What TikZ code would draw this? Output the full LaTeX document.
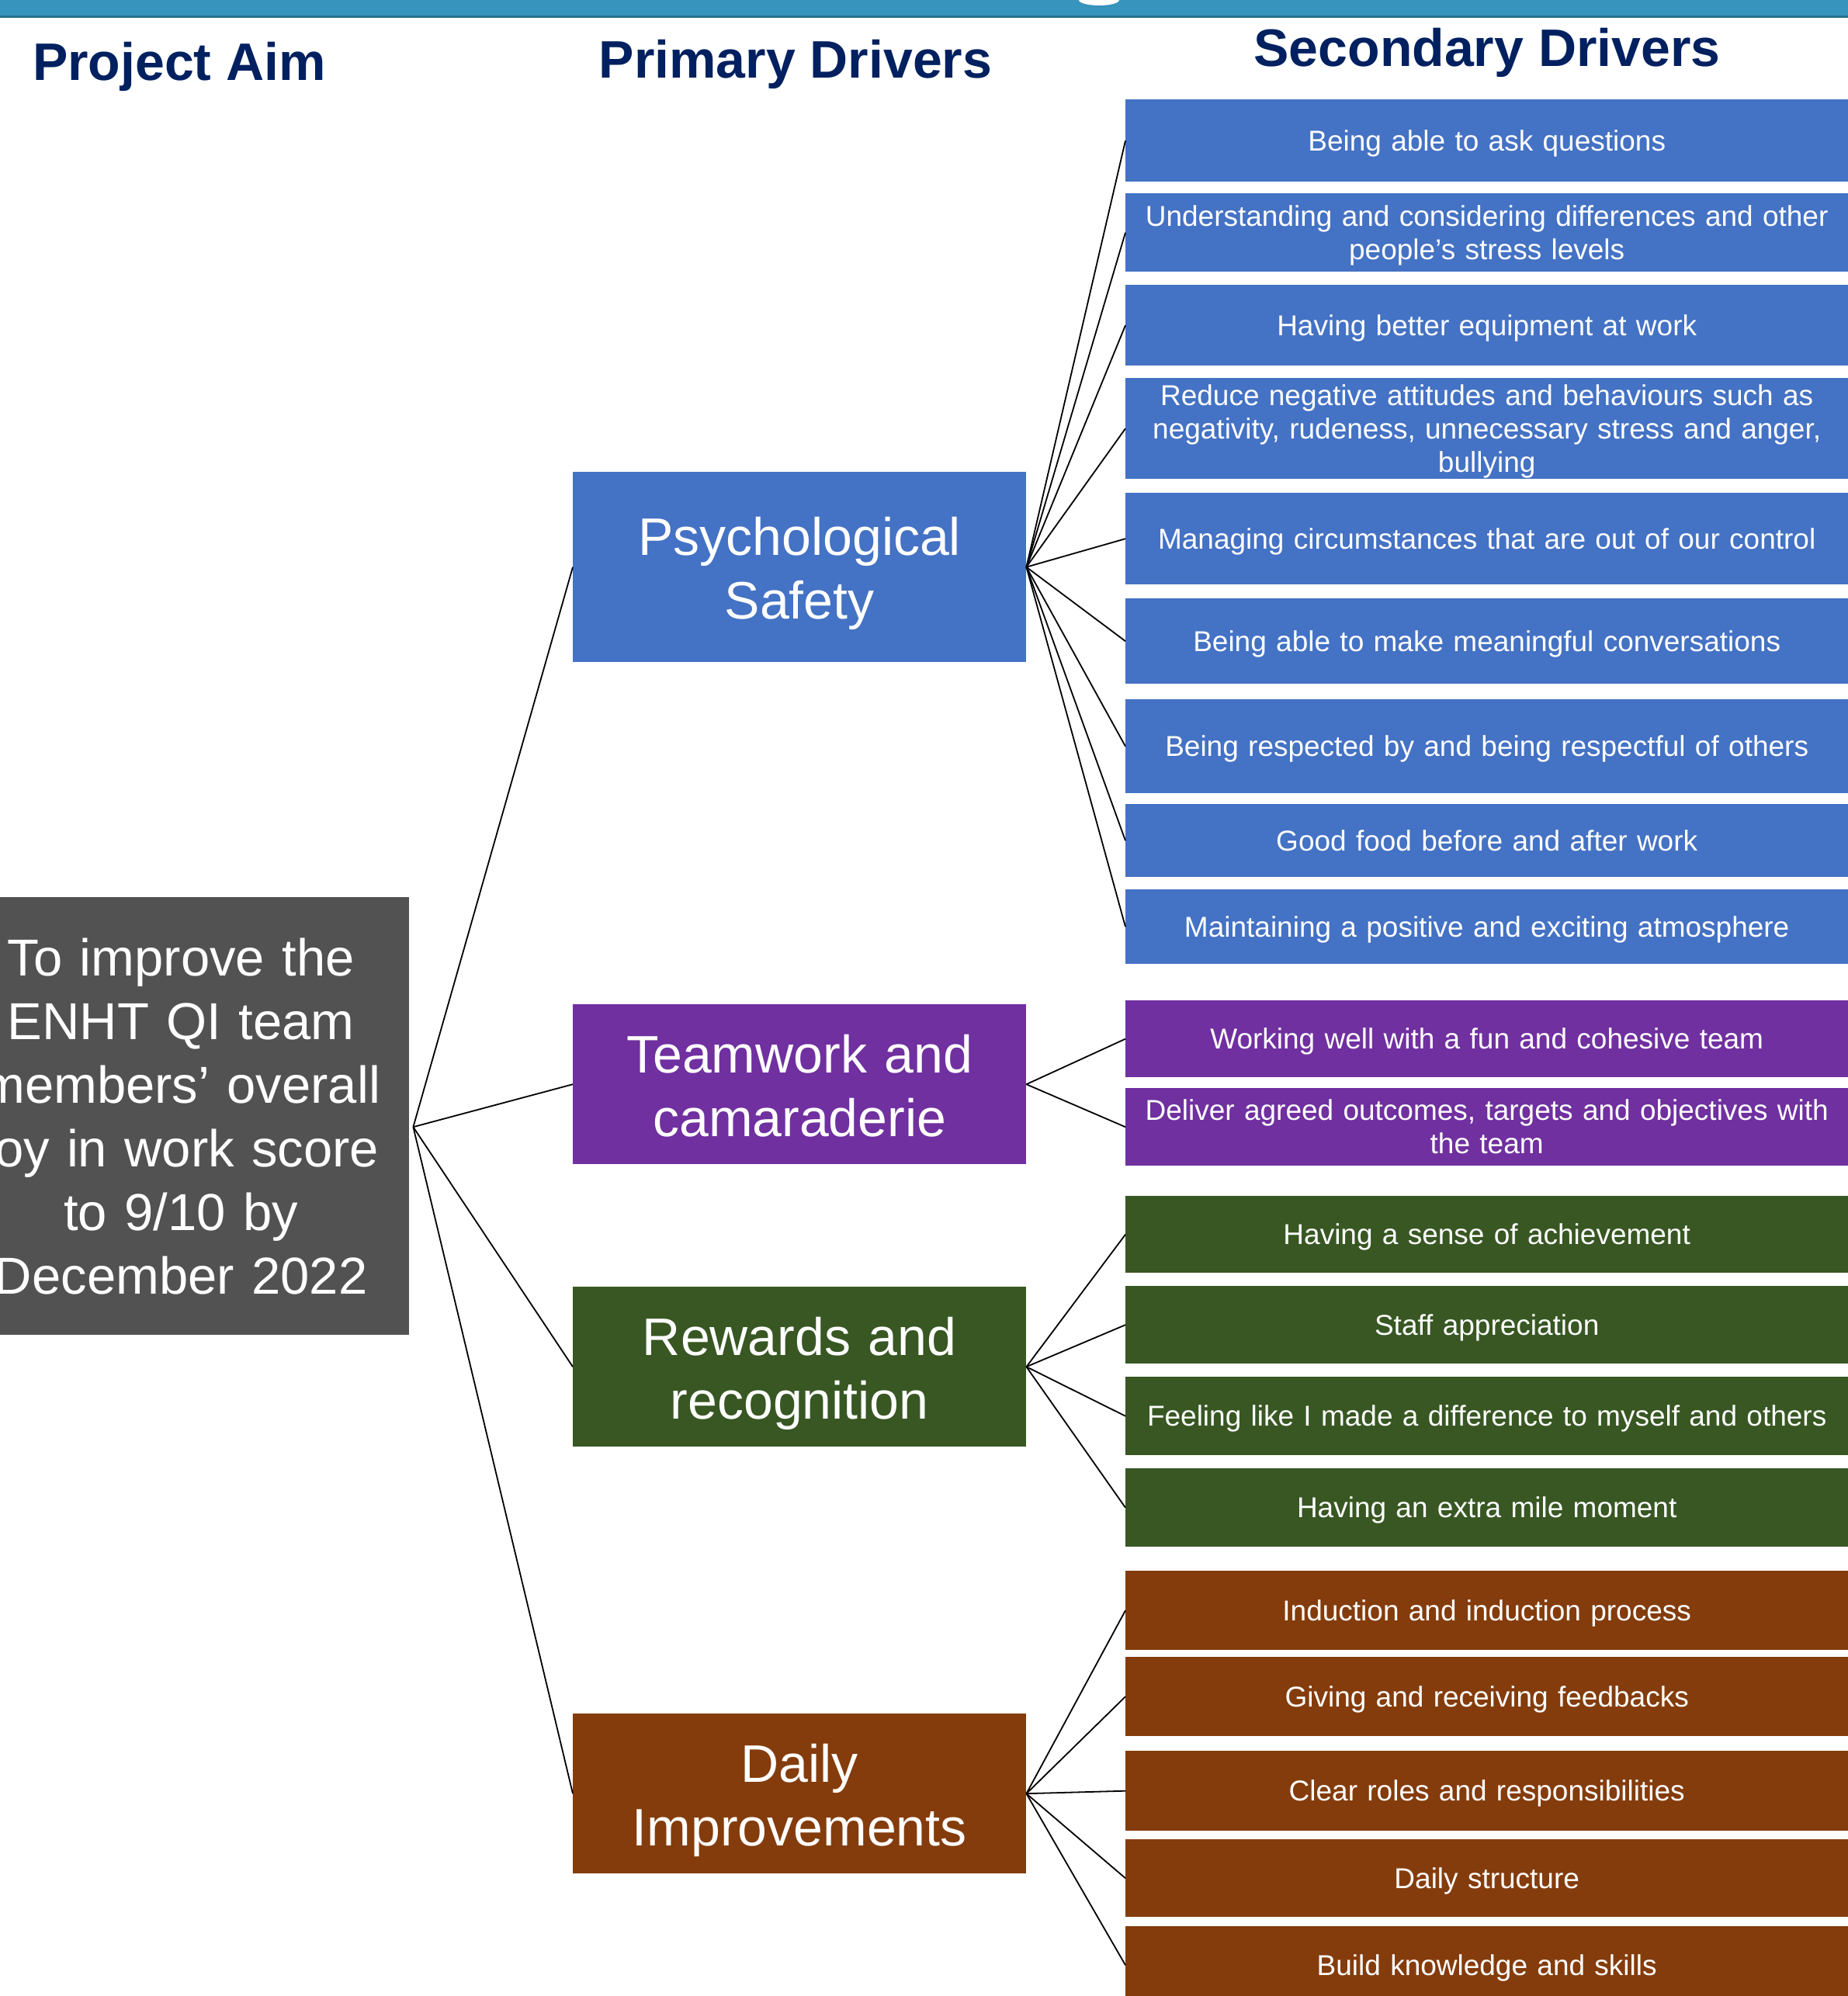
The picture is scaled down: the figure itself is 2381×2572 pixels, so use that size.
\documentclass[tikz,border=0pt]{standalone}
\usepackage{fontspec}
\setmainfont{Liberation Sans}
\definecolor{banner}{HTML}{3794BC}
\definecolor{bannerdark}{HTML}{26708E}
\definecolor{hdrblue}{HTML}{002060}
\definecolor{blueC}{HTML}{4472C4}
\definecolor{purpleC}{HTML}{7030A0}
\definecolor{greenC}{HTML}{385723}
\definecolor{brownC}{HTML}{843C0C}
\definecolor{aimgray}{HTML}{525252}
\begin{document}
\begin{tikzpicture}[x=1pt,y=-1pt,
  sec/.style={rectangle, anchor=north west, inner sep=0pt, minimum width=931pt, text width=931pt, align=center, text=white, font=\fontsize{37}{43}\selectfont,
    execute at begin node={\rule{0pt}{35pt}}, execute at end node={\rule[-9pt]{0pt}{9pt}}},
  prim/.style={rectangle, anchor=north west, inner sep=0pt, minimum width=584pt, text width=584pt, align=center, text=white, font=\fontsize{68}{82}\selectfont,
    execute at begin node={\rule{0pt}{67pt}}, execute at end node={\rule[-15pt]{0pt}{15pt}}},
  aimbox/.style={rectangle, anchor=north west, inner sep=0pt, minimum width=588pt, text width=588pt, align=center, text=white, fill=aimgray, font=\fontsize{67}{82}\selectfont},
  hdr/.style={anchor=base, inner sep=0pt, text=hdrblue, font=\fontsize{68}{82}\selectfont\bfseries},
  link/.style={draw=black, line width=1.8pt}
]
\useasboundingbox (0,0) rectangle (2381,2572);
\clip (0,0) rectangle (2381,2572);

% banner
\fill[banner] (0,0) rectangle (2381,20);
\fill[bannerdark] (0,20) rectangle (2381,23);
\fill[white] (1416,0) ellipse [x radius=26, y radius=7];

% headers
\node[hdr] (h1) at (231,103) {Project Aim};
\node[hdr] (h2) at (1025,100) {Primary Drivers};
\node[hdr] (h3) at (1916,85) {Secondary Drivers};

% aim
\node[aimbox, minimum height=564pt] (aim) at (-61,1156) {To improve the\\ENHT QI team\\members’ overall\\joy in work score\\to 9/10 by\\December 2022};

% primary drivers
\node[prim, fill=blueC, minimum height=245pt] (p1) at (738,608) {Psychological\\Safety};
\node[prim, fill=purpleC, minimum height=206pt] (p2) at (738,1294) {Teamwork and\\camaraderie};
\node[prim, fill=greenC, minimum height=206pt] (p3) at (738,1658) {Rewards and\\recognition};
\node[prim, fill=brownC, minimum height=206pt] (p4) at (738,2208) {Daily\\Improvements};

% secondary drivers
\node[sec, fill=blueC, minimum height=106pt] (s1) at (1450,128) {Being able to ask questions};
\node[sec, fill=blueC, minimum height=101pt] (s2) at (1450,249) {Understanding and considering differences and other\\people’s stress levels};
\node[sec, fill=blueC, minimum height=104pt] (s3) at (1450,367) {Having better equipment at work};
\node[sec, fill=blueC, minimum height=130pt] (s4) at (1450,487) {Reduce negative attitudes and behaviours such as\\negativity, rudeness, unnecessary stress and anger,\\bullying};
\node[sec, fill=blueC, minimum height=118pt] (s5) at (1450,635) {Managing circumstances that are out of our control};
\node[sec, fill=blueC, minimum height=110pt] (s6) at (1450,771) {Being able to make meaningful conversations};
\node[sec, fill=blueC, minimum height=121pt] (s7) at (1450,901) {Being respected by and being respectful of others};
\node[sec, fill=blueC, minimum height=94pt] (s8) at (1450,1036) {Good food before and after work};
\node[sec, fill=blueC, minimum height=96pt] (s9) at (1450,1146) {Maintaining a positive and exciting atmosphere};

\node[sec, fill=purpleC, minimum height=99pt] (s10) at (1450,1289) {Working well with a fun and cohesive team};
\node[sec, fill=purpleC, minimum height=100pt] (s11) at (1450,1402) {Deliver agreed outcomes, targets and objectives with\\the team};

\node[sec, fill=greenC, minimum height=99pt] (s12) at (1450,1541) {Having a sense of achievement};
\node[sec, fill=greenC, minimum height=100pt] (s13) at (1450,1657) {Staff appreciation};
\node[sec, fill=greenC, minimum height=101pt] (s14) at (1450,1774) {Feeling like I made a difference to myself and others};
\node[sec, fill=greenC, minimum height=101pt] (s15) at (1450,1892) {Having an extra mile moment};

\node[sec, fill=brownC, minimum height=102pt] (s16) at (1450,2024) {Induction and induction process};
\node[sec, fill=brownC, minimum height=102pt] (s17) at (1450,2135) {Giving and receiving feedbacks};
\node[sec, fill=brownC, minimum height=103pt] (s18) at (1450,2256) {Clear roles and responsibilities};
\node[sec, fill=brownC, minimum height=100pt] (s19) at (1450,2370) {Daily structure};
\node[sec, fill=brownC, minimum height=100pt] (s20) at (1450,2482) {Build knowledge and skills};

% connectors
\coordinate (aimo) at ([xshift=5pt,yshift=-14pt]aim.east);
\foreach \p in {1,...,4} \draw[link] (aimo) -- (p\p.west);
\foreach \s in {1,...,9} \draw[link] (p1.east) -- (s\s.west);
\foreach \s in {10,11} \draw[link] (p2.east) -- (s\s.west);
\foreach \s in {12,...,15} \draw[link] (p3.east) -- (s\s.west);
\foreach \s in {16,...,20} \draw[link] (p4.east) -- (s\s.west);
\end{tikzpicture}
\end{document}
